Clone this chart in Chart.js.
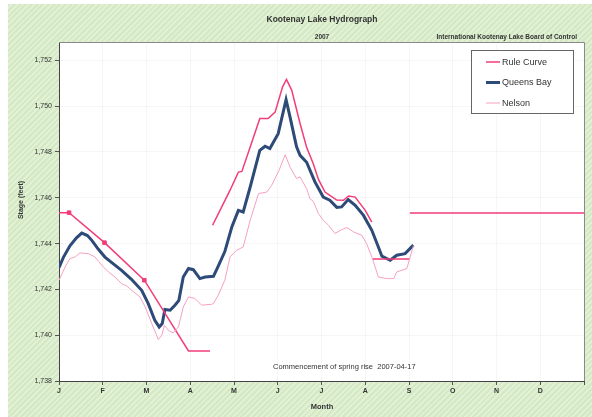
<!DOCTYPE html>
<html>
<head>
<meta charset="utf-8">
<script src="https://cdn.jsdelivr.net/npm/chart.js@4/dist/chart.umd.min.js"></script>
<style>
  html, body { margin:0; padding:0; background:#ffffff; }
  #bg { position:absolute; left:8px; top:4px; width:584px; height:413px;
        background: repeating-linear-gradient(135deg, #d3e9c3 0px, #d3e9c3 2px, #e2f1d6 2px, #e2f1d6 4px); }
  #wrap { position:absolute; left:0; top:0; width:592px; height:417px; }
</style>
</head>
<body>
<div id="bg"></div>
<div id="wrap"><canvas id="c" width="592" height="417"></canvas></div>
<script>
// ---- data (x = months since Jan 1) ----
const monthLabels = ['J','F','M','A','M','J','J','A','S','O','N','D'];
const stageTicks = [1738, 1740, 1742, 1744, 1746, 1748, 1750, 1752];

const queensX = [0,0.1,0.25,0.4,0.52,0.65,0.75,0.9,1.05,1.25,1.43,1.65,1.89,2.04,2.19,2.29,2.36,2.42,2.54,2.65,2.74,2.84,2.96,3.07,3.22,3.34,3.53,3.64,3.79,3.95,4.10,4.21,4.37,4.59,4.71,4.82,5.01,5.19,5.28,5.43,5.51,5.66,5.85,6.04,6.19,6.35,6.46,6.61,6.77,6.96,7.15,7.30,7.38,7.57,7.72,7.91,8.10];
const queensY = [1742.95,1743.4,1743.9,1744.25,1744.46,1744.35,1744.14,1743.75,1743.41,1743.1,1742.83,1742.45,1741.96,1741.38,1740.65,1740.36,1740.51,1741.12,1741.09,1741.31,1741.52,1742.54,1742.91,1742.86,1742.47,1742.54,1742.57,1743.02,1743.65,1744.72,1745.45,1745.38,1746.47,1748.07,1748.25,1748.15,1748.80,1750.28,1749.53,1748.22,1747.85,1747.55,1746.69,1746.03,1745.89,1745.58,1745.6,1745.92,1745.67,1745.23,1744.58,1743.85,1743.45,1743.27,1743.49,1743.56,1743.93];

const ruleX = [0,0.23,1.04,1.95,2.96,3.45,3.48, 3.51,3.68,3.91,4.10,4.18,4.37,4.59,4.78,4.94,5.11,5.20,5.32,5.51,5.66,5.81,5.93,6.08,6.19,6.35,6.50,6.62,6.77,7.0,7.15,7.16, 7.17,8.02,8.02, 8.02,12];
const ruleY = [1745.35,1745.35,1744.04,1742.40,1739.31,1739.31,null, 1744.8,1745.45,1746.33,1747.12,1747.15,1748.22,1749.46,1749.46,1749.74,1750.84,1751.17,1750.69,1749.24,1748.2,1747.5,1746.8,1746.25,1746.1,1745.9,1745.89,1746.08,1746.03,1745.45,1744.94,null, 1743.33,1743.33,null, 1745.33,1745.33];
const ruleMarkX = [0.23,1.04,1.95];
const ruleMarkY = [1745.35,1744.04,1742.40];

const nelsonX = [0,0.14,0.25,0.37,0.48,0.67,0.82,0.98,1.13,1.28,1.43,1.55,1.66,1.85,1.97,2.12,2.27,2.35,2.41,2.50,2.61,2.73,2.84,2.96,3.11,3.26,3.49,3.53,3.64,3.79,3.91,4.06,4.21,4.37,4.56,4.75,4.86,5.03,5.17,5.28,5.43,5.51,5.66,5.74,5.81,5.93,6.04,6.16,6.31,6.45,6.58,6.73,6.92,7.03,7.15,7.30,7.49,7.65,7.72,7.95,8.10];
const nelsonY = [1742.4,1742.98,1743.34,1743.42,1743.59,1743.56,1743.42,1743.05,1742.76,1742.54,1742.25,1742.15,1741.96,1741.67,1741.23,1740.51,1739.81,1740.0,1740.43,1740.21,1740.10,1740.36,1741.23,1741.67,1741.60,1741.31,1741.35,1741.38,1741.75,1742.4,1743.42,1743.71,1743.85,1745.02,1746.18,1746.25,1746.54,1747.2,1747.88,1747.34,1746.84,1746.91,1746.4,1745.95,1745.85,1745.31,1745.02,1744.8,1744.44,1744.6,1744.7,1744.51,1744.36,1744.0,1743.42,1742.54,1742.47,1742.47,1742.76,1742.91,1743.9];

const zip = (xs, ys) => xs.map((x, i) => ({x: x, y: ys[i]}));

const RULE = '#f23d78', QB = '#2d4a78', NEL = '#f7a0c4';
const FONT = '"Liberation Sans", Arial, sans-serif';

const frame = {
  id: 'frame',
  beforeDraw(chart) {
    const {ctx, chartArea: a} = chart;
    ctx.save();
    ctx.fillStyle = '#ffffff';
    ctx.fillRect(a.left, a.top, a.right - a.left, a.bottom - a.top);
    ctx.restore();
  },
  afterDraw(chart) {
    const {ctx, chartArea: a} = chart;
    ctx.save();
    ctx.strokeStyle = '#8a8a8a';
    ctx.lineWidth = 1;
    ctx.beginPath();
    ctx.moveTo(a.left, a.top + 0.5); ctx.lineTo(a.right + 0.5, a.top + 0.5); ctx.lineTo(a.right + 0.5, a.bottom);
    ctx.stroke();
    // texts
    ctx.fillStyle = '#333';
    ctx.textBaseline = 'middle';
    ctx.textAlign = 'center';
    ctx.font = 'bold 8.5px ' + FONT;
    ctx.fillText('Kootenay Lake Hydrograph', 322, 20);
    ctx.font = 'bold 6.5px ' + FONT;
    ctx.fillText('2007', 322, 37);
    ctx.font = 'bold 7.5px ' + FONT;
    ctx.fillText('Month', 322, 407);
    ctx.textAlign = 'right';
    ctx.font = 'bold 6.5px ' + FONT;
    ctx.fillText('International Kootenay Lake Board of Control', 577, 37);
    ctx.save();
    ctx.translate(21, 200);
    ctx.rotate(-Math.PI / 2);
    ctx.textAlign = 'center';
    ctx.font = 'bold 7px ' + FONT;
    ctx.fillText('Stage (feet)', 0, 0);
    ctx.restore();
    ctx.textAlign = 'left';
    ctx.font = '7.5px ' + FONT;
    ctx.fillText('Commencement of spring rise  2007-04-17', 273, 367);
    // legend
    const lx = 471, ly = 50, lw = 102, lh = 63;
    ctx.fillStyle = '#ffffff';
    ctx.fillRect(lx, ly, lw, lh);
    ctx.strokeStyle = '#666';
    ctx.strokeRect(lx + 0.5, ly + 0.5, lw, lh);
    const items = [['Rule Curve', RULE, 1.5], ['Queens Bay', QB, 3], ['Nelson', NEL, 1]];
    ctx.font = '9px ' + FONT;
    items.forEach((it, i) => {
      const y = ly + 12 + i * 20.5;
      ctx.strokeStyle = it[1]; ctx.lineWidth = it[2];
      ctx.beginPath(); ctx.moveTo(lx + 15, y); ctx.lineTo(lx + 29, y); ctx.stroke();
      ctx.fillStyle = '#333';
      ctx.fillText(it[0], lx + 31, y + 0.5);
    });
    ctx.restore();
  }
};

new Chart(document.getElementById('c'), {
  type: 'line',
  data: {
    datasets: [
      { label: 'Nelson', data: zip(nelsonX, nelsonY), borderColor: NEL, borderWidth: 1, pointRadius: 0, tension: 0, spanGaps: false },
      { label: 'Rule Curve', data: zip(ruleX, ruleY), borderColor: RULE, borderWidth: 1.5, pointRadius: 0, tension: 0, spanGaps: false },
      { label: 'Rule markers', data: zip(ruleMarkX, ruleMarkY), showLine: false, pointStyle: 'rect', pointRadius: 2.5, pointBackgroundColor: RULE, pointBorderColor: RULE, borderColor: RULE },
      { label: 'Queens Bay', data: zip(queensX, queensY), borderColor: QB, borderWidth: 3, pointRadius: 0, tension: 0, spanGaps: false }
    ]
  },
  options: {
    responsive: false,
    animation: false,
    layout: { padding: { top: 42, right: 8, left: 0, bottom: 0 } },
    plugins: { legend: { display: false }, title: { display: false }, tooltip: { enabled: false } },
    scales: {
      x: {
        type: 'linear', min: 0, max: 12,
        afterFit: s => { s.height = 36; },
        afterBuildTicks: s => { s.ticks = monthLabels.map((m, i) => ({value: i})).concat([{value: 12}]); },
        ticks: { callback: v => monthLabels[v] || '', color: '#333', font: { size: 7, weight: 'bold', family: FONT }, padding: 2, maxRotation: 0, autoSkip: false },
        grid: { color: 'rgba(0,0,0,0.035)', tickColor: '#555', tickLength: 4, drawTicks: true },
        border: { color: '#444', width: 1 },
        title: { display: false }
      },
      y: {
        min: 1738, max: 1752.8,
        afterFit: s => { s.width = 59; },
        afterBuildTicks: s => { s.ticks = stageTicks.map(v => ({value: v})); },
        ticks: { color: '#333', font: { size: 7, family: FONT }, padding: 3 },
        grid: { color: 'rgba(0,0,0,0.035)', tickColor: '#555', tickLength: 4 },
        border: { color: '#444', width: 1 },
        title: { display: false }
      }
    }
  },
  plugins: [frame]
});
</script>
</body>
</html>
